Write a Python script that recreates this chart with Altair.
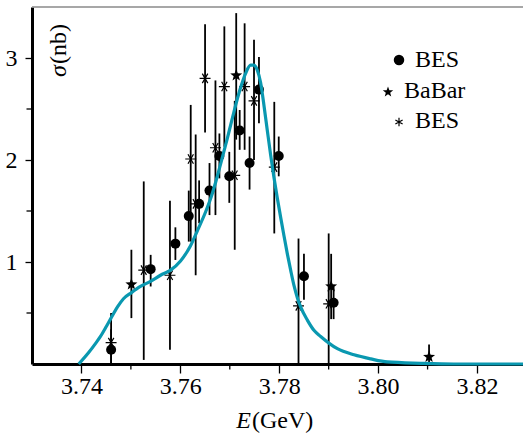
import altair as alt
import pandas as pd
import numpy as np

# ---------------- data ----------------
# BES (filled circles)
bes_E = [3.7460, 3.7540, 3.7590, 3.7617, 3.7638, 3.7659, 3.7679, 3.7699, 3.7720, 3.7740, 3.7759, 3.7799, 3.7850, 3.7910]
bes_sigma = [0.14, 0.93, 1.18, 1.45, 1.57, 1.70, 2.04, 1.84, 2.29, 1.97, 2.69, 2.04, 0.86, 0.60]
bes_lo = [0.00, 0.76, 1.02, 1.20, 1.38, 1.46, 1.82, 1.58, 2.10, 1.71, 2.36, 1.84, 0.63, 0.44]
bes_hi = [0.34, 1.07, 1.34, 1.70, 1.80, 1.97, 2.26, 2.08, 2.49, 2.23, 3.01, 2.23, 1.08, 0.76]

# BaBar (stars)
babar_E = [3.7501, 3.7713, 3.7905, 3.8103]
babar_sigma = [0.78, 2.83, 0.76, 0.07]
babar_lo = [0.45, 2.20, 0.44, 0.00]
babar_hi = [1.12, 3.44, 1.08, 0.19]

# BES (asterisks)
ast_E = [3.7460, 3.7526, 3.7579, 3.7621, 3.7631, 3.7650, 3.7671, 3.7689, 3.7710, 3.7730, 3.7749, 3.7790, 3.7839, 3.7900]
ast_sigma = [0.21, 0.92, 0.87, 2.01, 1.57, 2.80, 2.12, 2.72, 1.85, 2.72, 2.58, 1.93, 0.57, 0.59]
ast_lo = [0.00, 0.04, 0.14, 1.20, 0.87, 2.27, 1.46, 2.13, 1.12, 2.10, 2.00, 1.28, 0.00, 0.00]
ast_hi = [0.50, 1.79, 1.60, 2.54, 2.25, 3.33, 2.78, 3.31, 2.58, 3.34, 3.18, 2.57, 1.23, 1.28]

# fitted line shape
curve_E = [3.73945, 3.74142, 3.74283, 3.74385, 3.74506, 3.74587, 3.74729, 3.74850, 3.75012,
           3.75194, 3.75397, 3.75599, 3.75802, 3.76004, 3.76206, 3.76348, 3.76510, 3.76611,
           3.76713, 3.76814, 3.76949, 3.77016, 3.77083, 3.77219, 3.77320, 3.77421, 3.77482,
           3.77557, 3.77623, 3.77690, 3.77759, 3.77826, 3.77893, 3.77960, 3.78028, 3.78095,
           3.78164, 3.78231, 3.78298, 3.78366, 3.78433, 3.78569, 3.78702, 3.78838, 3.79176,
           3.79512, 3.79850, 3.80188, 3.80862, 3.81530, 3.82930]
curve_sigma = [0.00, 0.11, 0.20, 0.27, 0.37, 0.44, 0.56, 0.64, 0.70,
               0.76, 0.81, 0.87, 0.92, 1.01, 1.16, 1.31, 1.49, 1.62,
               1.78, 1.96, 2.21, 2.34, 2.47, 2.71, 2.85, 2.93, 2.93,
               2.88, 2.76, 2.54, 2.29, 2.05, 1.83, 1.63, 1.44, 1.26,
               1.08, 0.92, 0.77, 0.65, 0.56, 0.43, 0.33, 0.27, 0.15,
               0.09, 0.05, 0.02, 0.007, 0.0, 0.0]

x_major = [3.74, 3.76, 3.78, 3.80, 3.82]
x_minor = [3.75, 3.77, 3.79, 3.81]
y_major = [1, 2, 3]
y_minor = [0.5, 1.5, 2.5]

legend_labels = ["BES", "BaBar", "BES"]

# ---------------- styling ----------------
FONT = "Liberation Serif"
FS = 24
TEAL = "#0a98b0"
W, H = 491, 357

xs = alt.Scale(domain=[3.73, 3.8293], nice=False, zero=False)
ys = alt.Scale(domain=[0, 3.5], nice=False, zero=False)

axis_x = alt.Axis(values=x_major, format=".2f", title=None, grid=False,
                  domainColor="black", domainWidth=3, tickColor="black", tickWidth=1.3,
                  tickSize=9, labelFont=FONT, labelFontSize=FS, labelColor="black",
                  labelPadding=1, labelFlush=False)
axis_y = alt.Axis(values=y_major, format="d", title=None, grid=False,
                  domainColor="black", domainWidth=3, tickColor="black", tickWidth=1.3,
                  tickSize=7, labelFont=FONT, labelFontSize=FS, labelColor="black",
                  labelPadding=8)

# symbol paths (unit coordinates)
pts = []
for k in range(10):
    r = 1.0 if k % 2 == 0 else 0.42
    a = np.deg2rad(-90 + 36 * k)
    pts.append(f"{r*np.cos(a):.3f},{r*np.sin(a):.3f}")
STAR = "M" + "L".join(pts) + "Z"
AST_H = "M-1,0L1,0M-0.5,-0.866L0.5,0.866M-0.5,0.866L0.5,-0.866"
AST_V = "M0,-1L0,1M-0.866,-0.5L0.866,0.5M-0.866,0.5L0.866,-0.5"

dots = pd.DataFrame({"E": bes_E, "s": bes_sigma, "lo": bes_lo, "hi": bes_hi})
stars = pd.DataFrame({"E": babar_E, "s": babar_sigma, "lo": babar_lo, "hi": babar_hi})
asts = pd.DataFrame({"E": ast_E, "s": ast_sigma, "lo": ast_lo, "hi": ast_hi})
allpts = pd.concat([dots, stars, asts], ignore_index=True)
curve = pd.DataFrame({"E": curve_E, "s": curve_sigma})

X = lambda f="E": alt.X(f"{f}:Q", scale=xs, axis=axis_x)
Y = lambda f="s": alt.Y(f"{f}:Q", scale=ys, axis=axis_y)

errbars = alt.Chart(allpts).mark_rule(color="black", strokeWidth=1.8).encode(
    x=X(), y=Y("lo"), y2="hi:Q")

dot_layer = alt.Chart(dots).mark_point(shape="circle", filled=True, size=100,
                                       color="black", opacity=1).encode(x=X(), y=Y())
star_layer = alt.Chart(stars).mark_point(shape=STAR, filled=True, size=160,
                                         color="black", opacity=1).encode(x=X(), y=Y())
ast_layer = alt.Chart(asts).mark_point(shape=AST_H, filled=False, size=120, strokeWidth=1.2,
                                       color="black", opacity=1).encode(x=X(), y=Y())

curve_layer = alt.Chart(curve).mark_line(color=TEAL, strokeWidth=3.2,
                                         interpolate="monotone").encode(x=X(), y=Y())

xminor = alt.Chart(pd.DataFrame({"v": x_minor})).mark_rule(color="black", strokeWidth=1.3).encode(
    x=X("v"), y=alt.value(H), y2=alt.value(H + 5.5))
yminor = alt.Chart(pd.DataFrame({"v": y_minor})).mark_rule(color="black", strokeWidth=1.3).encode(
    y=Y("v"), x=alt.value(0), x2=alt.value(-5.5))

one = alt.Data(values=[{}])
top_border = alt.Chart(one).mark_rule(color="#8a8a8a", strokeWidth=1.6).encode(
    x=alt.value(0), x2=alt.value(W + 2), y=alt.value(0))

def txt(s, x, y, italic=False, align="left", angle=0):
    kw = dict(text=s, font=FONT, fontSize=FS, color="black", align=align,
              baseline="alphabetic")
    if italic:
        kw["fontStyle"] = "italic"
    if angle:
        kw["angle"] = angle
    return alt.Chart(one).mark_text(**kw).encode(x=alt.value(x), y=alt.value(y))

# axis titles
xt1 = txt("E", 219, 421, italic=True, align="right")
xt2 = txt("(GeV)", 220, 421)
yt1 = txt("σ", 34, 70, italic=True, angle=270)
yt2 = txt("(nb)", 34, 57, angle=270)

# legend
leg_dot = alt.Chart(one).mark_point(shape="circle", filled=True, size=110, color="black",
                                    opacity=1).encode(x=alt.value(367), y=alt.value(53))
leg_star = alt.Chart(one).mark_point(shape=STAR, filled=True, size=120, color="black",
                                     opacity=1).encode(x=alt.value(356), y=alt.value(85))
leg_ast = alt.Chart(one).mark_point(shape=AST_V, filled=False, size=70, strokeWidth=1.2,
                                    color="black", opacity=1).encode(x=alt.value(367), y=alt.value(115))
leg_t1 = txt(legend_labels[0], 383, 60)
leg_t2 = txt(legend_labels[1], 372, 91)
leg_t3 = txt(legend_labels[2], 383, 121)

chart = alt.layer(
    errbars, top_border, xminor, yminor, dot_layer, star_layer, ast_layer, curve_layer,
    xt1, xt2, yt1, yt2, leg_dot, leg_star, leg_ast, leg_t1, leg_t2, leg_t3
).properties(
    width=W, height=H,
    autosize=alt.AutoSizeParams(type="none"),
    padding={"left": 32, "top": 7, "right": 0, "bottom": 72},
).configure_view(stroke=None)

chart.save("out.html", embed_options={"renderer": "svg", "actions": False})
